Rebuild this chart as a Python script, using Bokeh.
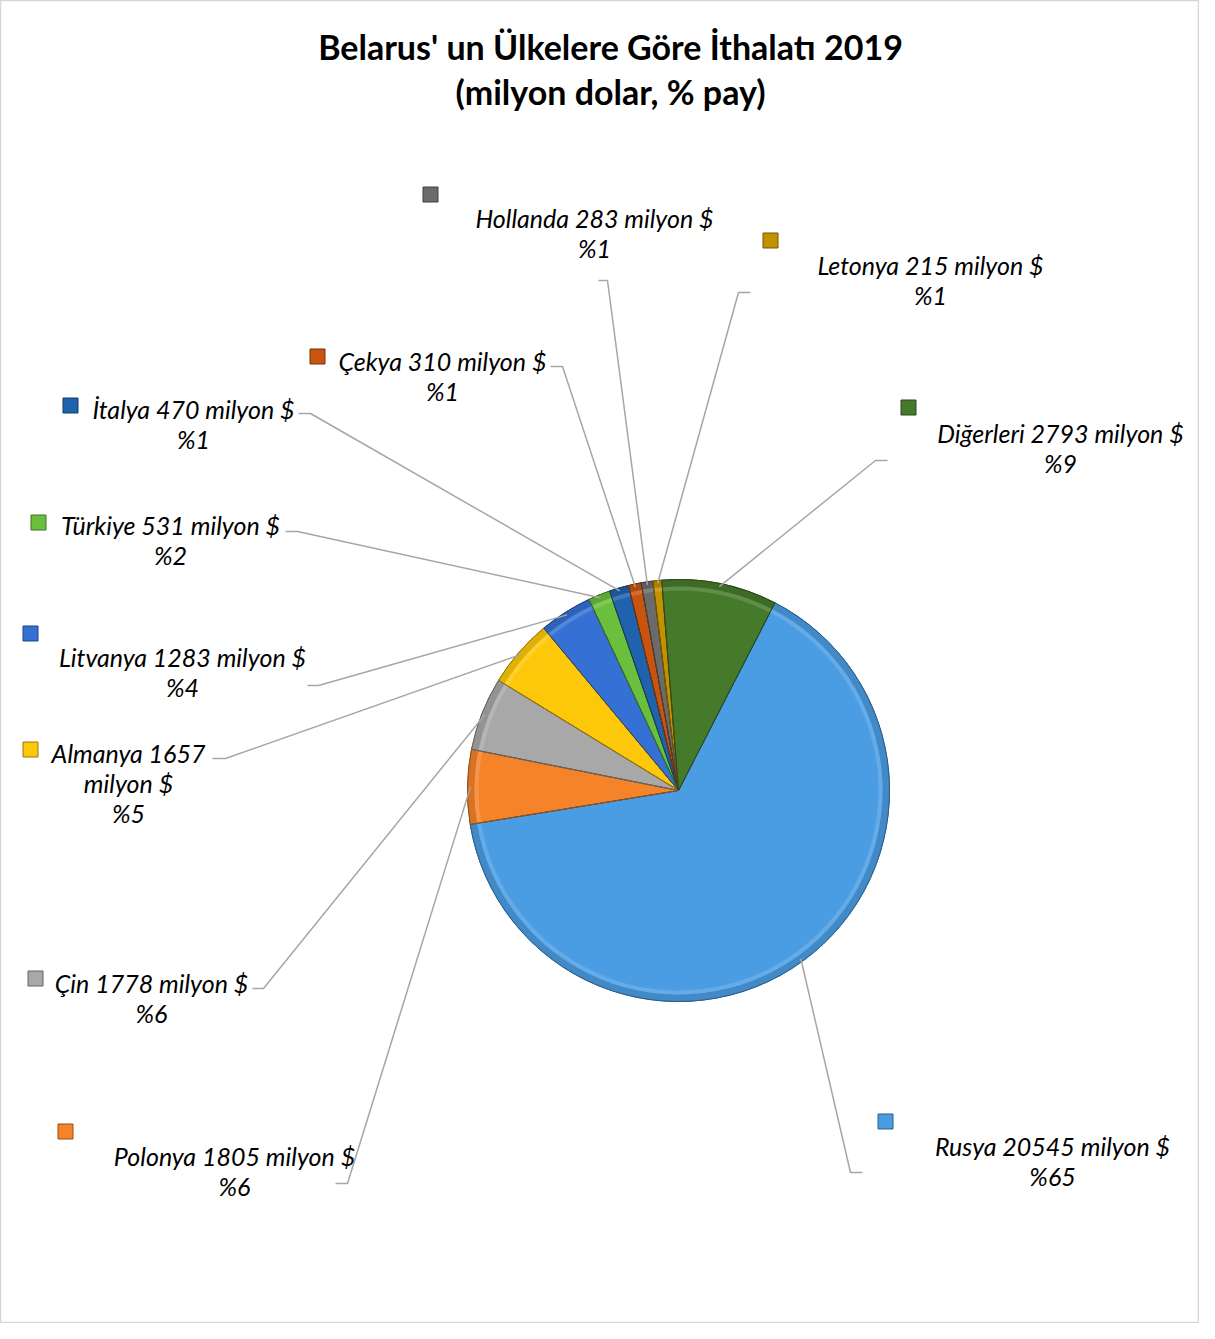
import math
from bokeh.plotting import figure
from bokeh.models import Range1d
from bokeh.embed import file_html
from bokeh.resources import INLINE
from bokeh.core.properties import value

# ---- data ----
countries = ["Rusya", "Polonya", "Çin", "Almanya", "Litvanya", "Türkiye",
             "İtalya", "Çekya", "Hollanda", "Letonya", "Diğerleri"]
imports_musd = [20545, 1805, 1778, 1657, 1283, 531, 470, 310, 283, 215, 2793]
slice_colors = ["#4a9de3", "#f5832a", "#a8a8a8", "#fdc80a", "#3570d4", "#6abf3c",
                "#1f62ad", "#c9540f", "#6b6b6b", "#c29100", "#467a2b"]
title_lines = ["Belarus' un Ülkelere Göre İthalatı 2019", "(milyon dolar, % pay)"]

# ---- layout (reference pixel coordinates) ----
W, H = 1199, 1323
CX, CY, R = 678, 790, 211
START_DEG = 62.8  # math angle where first slice starts, slices go clockwise

label_pos = [(1052, 1160), (234, 1170), (151, 997), (128, 782), (182, 671), (170, 539),
             (193, 423), (442, 375), (594, 232), (930, 279), (1060, 447)]
wrap_after = [None, None, None, 1, None, None, None, None, None, None, None]
key_pos = [(885, 1121), (65, 1131), (35, 978), (30, 749), (30, 633), (38, 522),
           (70, 405), (317, 356), (430, 194), (770, 240), (908, 407)]
leader_start = [(862, 1172), (335, 1183), (252, 988), (212, 758), (307, 685), (285, 531),
                (298, 413), (550, 366), (598, 280), (750, 292), (887, 460)]
leader_elbow = [(850, 1172), (347, 1183), (263, 988), (225, 758), (318, 685), (297, 531),
                (310, 413), (562, 366), (607, 280), (738, 292), (875, 460)]


def fy(y):
    return H - y


def shade(hx, f):
    r, g, b = int(hx[1:3], 16), int(hx[3:5], 16), int(hx[5:7], 16)
    if f < 1:
        r, g, b = int(r * f), int(g * f), int(b * f)
    else:
        t = f - 1
        r, g, b = int(r + (255 - r) * t), int(g + (255 - g) * t), int(b + (255 - b) * t)
    return "#%02x%02x%02x" % (r, g, b)


total = sum(imports_musd)
p = figure(width=W, height=H, x_range=Range1d(0, W), y_range=Range1d(0, H),
           output_backend="svg", toolbar_location=None, min_border=0)
p.axis.visible = False
p.grid.visible = False
p.outline_line_color = "#d6d6d6"
p.outline_line_width = 1.5
p.background_fill_color = "white"

starts, ends, mids = [], [], []
acc = 0.0
for v in imports_musd:
    a0 = START_DEG - acc * 360.0 / total
    a1 = a0 - v * 360.0 / total
    starts.append(math.radians(a1))
    ends.append(math.radians(a0))
    mids.append(math.radians((a0 + a1) / 2))
    acc += v

n = len(countries)
p.wedge(x=[CX] * n, y=[fy(CY)] * n, radius=R, start_angle=starts, end_angle=ends,
        direction="anticlock", fill_color=slice_colors,
        line_color=[shade(c, 0.7) for c in slice_colors], line_width=1)
# bevel rim
p.annular_wedge(x=[CX] * n, y=[fy(CY)] * n, inner_radius=R - 7, outer_radius=R,
                start_angle=starts, end_angle=ends, direction="anticlock",
                fill_color=[shade(c, 0.88) for c in slice_colors], line_color=None)
p.annular_wedge(x=[CX] * n, y=[fy(CY)] * n, inner_radius=R - 11, outer_radius=R - 7,
                start_angle=starts, end_angle=ends, direction="anticlock",
                fill_color=[shade(c, 1.15) for c in slice_colors], line_color=None)
p.wedge(x=[CX] * n, y=[fy(CY)] * n, radius=R, start_angle=starts, end_angle=ends,
        direction="anticlock", fill_color=None,
        line_color=[shade(c, 0.6) for c in slice_colors], line_width=1)

# leader lines
xs, ys = [], []
for i in range(n):
    px = CX + (R - 3) * math.cos(mids[i])
    py = fy(CY) + (R - 3) * math.sin(mids[i])
    xs.append([leader_start[i][0], leader_elbow[i][0], px])
    ys.append([fy(leader_start[i][1]), fy(leader_elbow[i][1]), py])
p.multi_line(xs=xs, ys=ys, line_color="#a6a6a6", line_width=1.5)

# labels
texts = []
for i, (c, v) in enumerate(zip(countries, imports_musd)):
    pct = round(v / total * 100)
    if wrap_after[i] is not None:
        texts.append(f"{c} {v}\nmilyon $\n%{pct}")
    else:
        texts.append(f"{c} {v} milyon $\n%{pct}")
p.text(x=[q[0] for q in label_pos], y=[fy(q[1]) for q in label_pos], text=texts,
       text_font=value("Lato"), text_font_size="25px", text_font_style="italic",
       text_align="center", text_baseline="middle", text_line_height=1.0,
       text_color="#000000")

# legend keys
p.rect(x=[q[0] for q in key_pos], y=[fy(q[1]) for q in key_pos], width=15, height=15,
       fill_color=slice_colors, line_color=[shade(c, 0.6) for c in slice_colors], line_width=1)

# title
p.text(x=[610, 610], y=[fy(46), fy(91)], text=title_lines,
       text_font=value("Lato"), text_font_size="34px", text_font_style="bold",
       text_align="center", text_baseline="middle", text_color="#000000")

open("out.html", "w").write(file_html(p, INLINE))
